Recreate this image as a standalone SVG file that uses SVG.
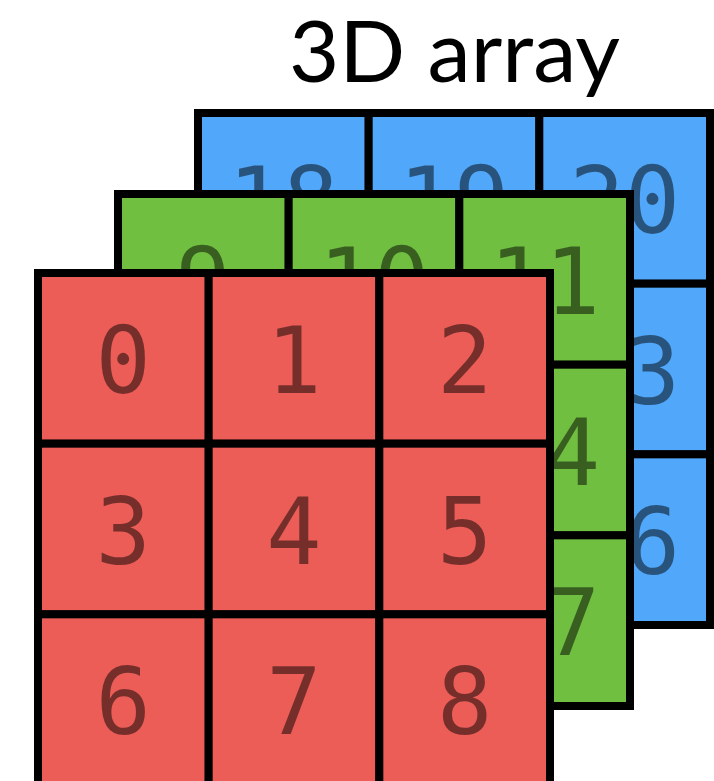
<svg xmlns="http://www.w3.org/2000/svg" width="714" height="781" viewBox="0 0 714 781">
<style>
.c{stroke:#000;stroke-width:8}
.b{fill:#51A7F9}.g{fill:#70BF41}.r{fill:#EC5D57}
.n{font-family:"DejaVu Sans Mono",monospace;font-size:92px;fill:#000;fill-opacity:0.5;text-anchor:middle}
.t{font-family:Lato,"Noto Sans",sans-serif;font-size:86px;fill:#000}
</style>
<rect width="714" height="781" fill="#fff"/>
<g id="title"><text class="t" x="289" y="82" textLength="331" lengthAdjust="spacingAndGlyphs">3D array</text></g>
<g id="layer-blue">
<g id="b18"><rect class="c b" x="198" y="113" width="170.67" height="170.67"/><text class="n" x="283.3" y="233">18</text></g>
<g id="b19"><rect class="c b" x="368.67" y="113" width="170.67" height="170.67"/><text class="n" x="454" y="233">19</text></g>
<g id="b20"><rect class="c b" x="539.33" y="113" width="170.67" height="170.67"/><text class="n" x="624.7" y="233">20</text></g>
<g id="b21"><rect class="c b" x="198" y="283.67" width="170.67" height="170.67"/><text class="n" x="283.3" y="403.7">21</text></g>
<g id="b22"><rect class="c b" x="368.67" y="283.67" width="170.67" height="170.67"/><text class="n" x="454" y="403.7">22</text></g>
<g id="b23"><rect class="c b" x="539.33" y="283.67" width="170.67" height="170.67"/><text class="n" x="624.7" y="403.7">23</text></g>
<g id="b24"><rect class="c b" x="198" y="454.33" width="170.67" height="170.67"/><text class="n" x="283.3" y="574.3">24</text></g>
<g id="b25"><rect class="c b" x="368.67" y="454.33" width="170.67" height="170.67"/><text class="n" x="454" y="574.3">25</text></g>
<g id="b26"><rect class="c b" x="539.33" y="454.33" width="170.67" height="170.67"/><text class="n" x="624.7" y="574.3">26</text></g>
</g>
<g id="layer-green">
<g id="g9"><rect class="c g" x="118" y="194" width="170.67" height="170.67"/><text class="n" x="203.3" y="314">9</text></g>
<g id="g10"><rect class="c g" x="288.67" y="194" width="170.67" height="170.67"/><text class="n" x="374" y="314">10</text></g>
<g id="g11"><rect class="c g" x="459.33" y="194" width="170.67" height="170.67"/><text class="n" x="544.7" y="314">11</text></g>
<g id="g12"><rect class="c g" x="118" y="364.67" width="170.67" height="170.67"/><text class="n" x="203.3" y="484.7">12</text></g>
<g id="g13"><rect class="c g" x="288.67" y="364.67" width="170.67" height="170.67"/><text class="n" x="374" y="484.7">13</text></g>
<g id="g14"><rect class="c g" x="459.33" y="364.67" width="170.67" height="170.67"/><text class="n" x="544.7" y="484.7">14</text></g>
<g id="g15"><rect class="c g" x="118" y="535.33" width="170.67" height="170.67"/><text class="n" x="203.3" y="655.3">15</text></g>
<g id="g16"><rect class="c g" x="288.67" y="535.33" width="170.67" height="170.67"/><text class="n" x="374" y="655.3">16</text></g>
<g id="g17"><rect class="c g" x="459.33" y="535.33" width="170.67" height="170.67"/><text class="n" x="544.7" y="655.3">17</text></g>
</g>
<g id="layer-red">
<g id="r0"><rect class="c r" x="38" y="273" width="170.67" height="170.67"/><text class="n" x="123.3" y="393">0</text></g>
<g id="r1"><rect class="c r" x="208.67" y="273" width="170.67" height="170.67"/><text class="n" x="294" y="393">1</text></g>
<g id="r2"><rect class="c r" x="379.33" y="273" width="170.67" height="170.67"/><text class="n" x="464.7" y="393">2</text></g>
<g id="r3"><rect class="c r" x="38" y="443.67" width="170.67" height="170.67"/><text class="n" x="123.3" y="563.7">3</text></g>
<g id="r4"><rect class="c r" x="208.67" y="443.67" width="170.67" height="170.67"/><text class="n" x="294" y="563.7">4</text></g>
<g id="r5"><rect class="c r" x="379.33" y="443.67" width="170.67" height="170.67"/><text class="n" x="464.7" y="563.7">5</text></g>
<g id="r6"><rect class="c r" x="38" y="614.33" width="170.67" height="170.67"/><text class="n" x="123.3" y="734.3">6</text></g>
<g id="r7"><rect class="c r" x="208.67" y="614.33" width="170.67" height="170.67"/><text class="n" x="294" y="734.3">7</text></g>
<g id="r8"><rect class="c r" x="379.33" y="614.33" width="170.67" height="170.67"/><text class="n" x="464.7" y="734.3">8</text></g>
</g>
</svg>
